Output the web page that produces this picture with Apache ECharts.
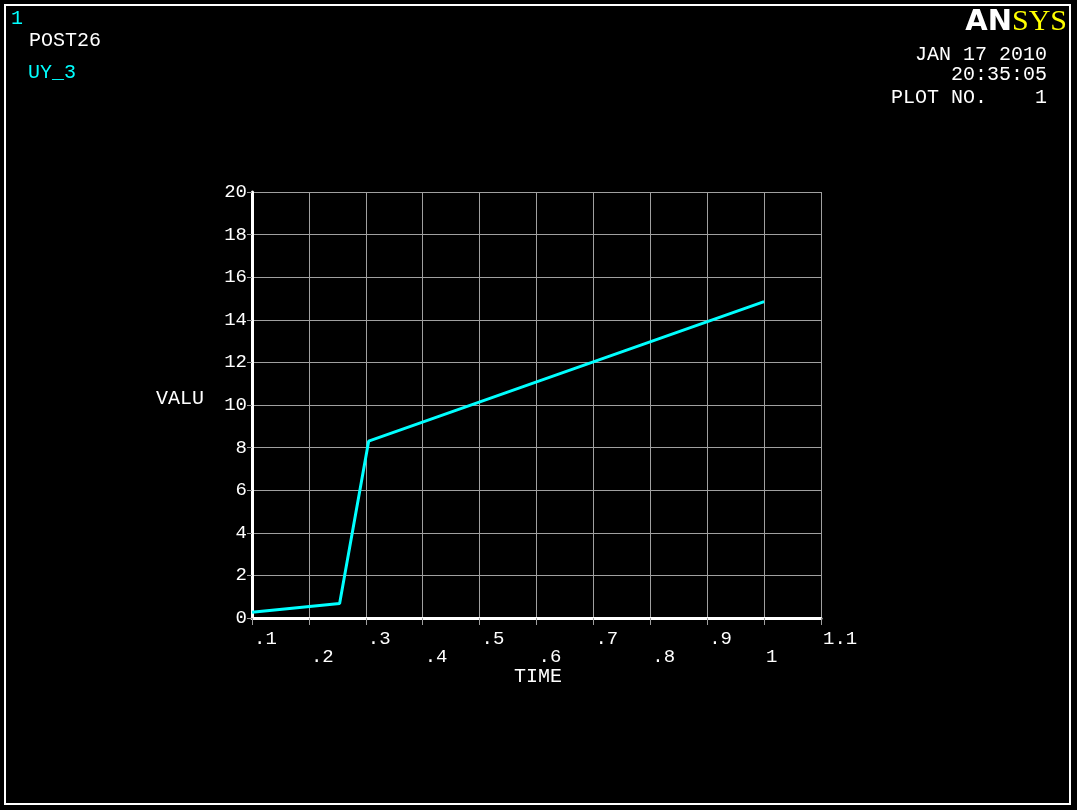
<!DOCTYPE html>
<html>
<head>
<meta charset="utf-8">
<script src="https://cdn.jsdelivr.net/npm/echarts@6/dist/echarts.min.js"></script>
<style>
html,body{margin:0;padding:0;background:#000;}
#c{width:1077px;height:810px;}
</style>
</head>
<body>
<div id="c"></div>
<script>
// Data
const timeValues = [0.1, 0.254, 0.305, 1.0];
const uyValues = [0.27, 0.68, 8.3, 14.85];
const seriesName = 'UY_3';
const xTickLabels = ['.1', '.2', '.3', '.4', '.5', '.6', '.7', '.8', '.9', '1', '1.1'];
const yTickLabels = ['0', '2', '4', '6', '8', '10', '12', '14', '16', '18', '20'];

const FONT = 'Liberation Mono';
const TXT = '20px "Liberation Mono"';
const chart = echarts.init(document.getElementById('c'));

const points = timeValues.map((t, i) => [t, uyValues[i]]);

chart.setOption({
  backgroundColor: '#000',
  animation: false,
  grid: { left: 252, right: 256, top: 192, bottom: 192 },
  xAxis: {
    type: 'value',
    min: 0.1, max: 1.1, interval: 0.1,
    axisLine: { show: true, onZero: false, lineStyle: { color: '#fff', width: 3 } },
    axisTick: { show: true, length: 7, lineStyle: { color: '#a0a0a0', width: 1 } },
    splitLine: { show: true, lineStyle: { color: '#a0a0a0', width: 1 } },
    axisLabel: {
      color: '#fff', fontFamily: FONT, fontSize: 19, align: 'left',
      margin: 12, lineHeight: 18, verticalAlign: 'top', padding: [0, 0, 0, 2],
      formatter: function (v) {
        const idx = Math.round((v - 0.1) * 10);
        const lab = xTickLabels[idx] !== undefined ? xTickLabels[idx] : '';
        return idx % 2 === 1 ? '\n' + lab : lab;
      }
    }
  },
  yAxis: {
    type: 'value',
    min: 0, max: 20, interval: 2,
    axisLine: { show: true, onZero: false, lineStyle: { color: '#fff', width: 3 } },
    axisTick: { show: true, length: 5, lineStyle: { color: '#a0a0a0', width: 1 } },
    splitLine: { show: true, lineStyle: { color: '#a0a0a0', width: 1 } },
    axisLabel: {
      color: '#fff', fontFamily: FONT, fontSize: 19, margin: 5,
      formatter: function (v) {
        const idx = Math.round(v / 2);
        return yTickLabels[idx] !== undefined ? yTickLabels[idx] : '';
      }
    }
  },
  series: [{
    name: seriesName,
    type: 'line',
    data: points,
    showSymbol: false,
    symbol: 'none',
    lineStyle: { color: '#00ffff', width: 3 },
    z: 5
  }],
  graphic: [
    { type: 'rect', shape: { x: 5, y: 5, width: 1065, height: 799 },
      style: { fill: 'none', stroke: '#fff', lineWidth: 2 }, silent: true },
    { type: 'text', left: 11, top: 9,
      style: { text: '1', fill: '#00ffff', font: TXT } },
    { type: 'text', left: 29, top: 31,
      style: { text: 'POST26', fill: '#fff', font: TXT } },
    { type: 'text', left: 28, top: 63,
      style: { text: seriesName, fill: '#00ffff', font: TXT } },
    { type: 'text', right: 10, top: 7,
      style: {
        text: '{a|AN}{b|SYS}',
        rich: {
          a: { fill: '#fff', fontFamily: 'DejaVu Sans', fontWeight: 'bold', fontSize: 29 },
          b: { fill: '#ffff00', fontFamily: 'Liberation Serif', fontSize: 30 }
        }
      } },
    { type: 'text', right: 30, top: 45,
      style: { text: 'JAN 17 2010', fill: '#fff', font: TXT, align: 'right' } },
    { type: 'text', right: 30, top: 65,
      style: { text: '20:35:05', fill: '#fff', font: TXT, align: 'right' } },
    { type: 'text', right: 30, top: 88,
      style: { text: 'PLOT NO.    1', fill: '#fff', font: TXT, align: 'right' } },
    { type: 'text', left: 156, top: 389,
      style: { text: 'VALU', fill: '#fff', font: TXT } },
    { type: 'text', left: 514, top: 667,
      style: { text: 'TIME', fill: '#fff', font: TXT } }
  ]
});
</script>
</body>
</html>
